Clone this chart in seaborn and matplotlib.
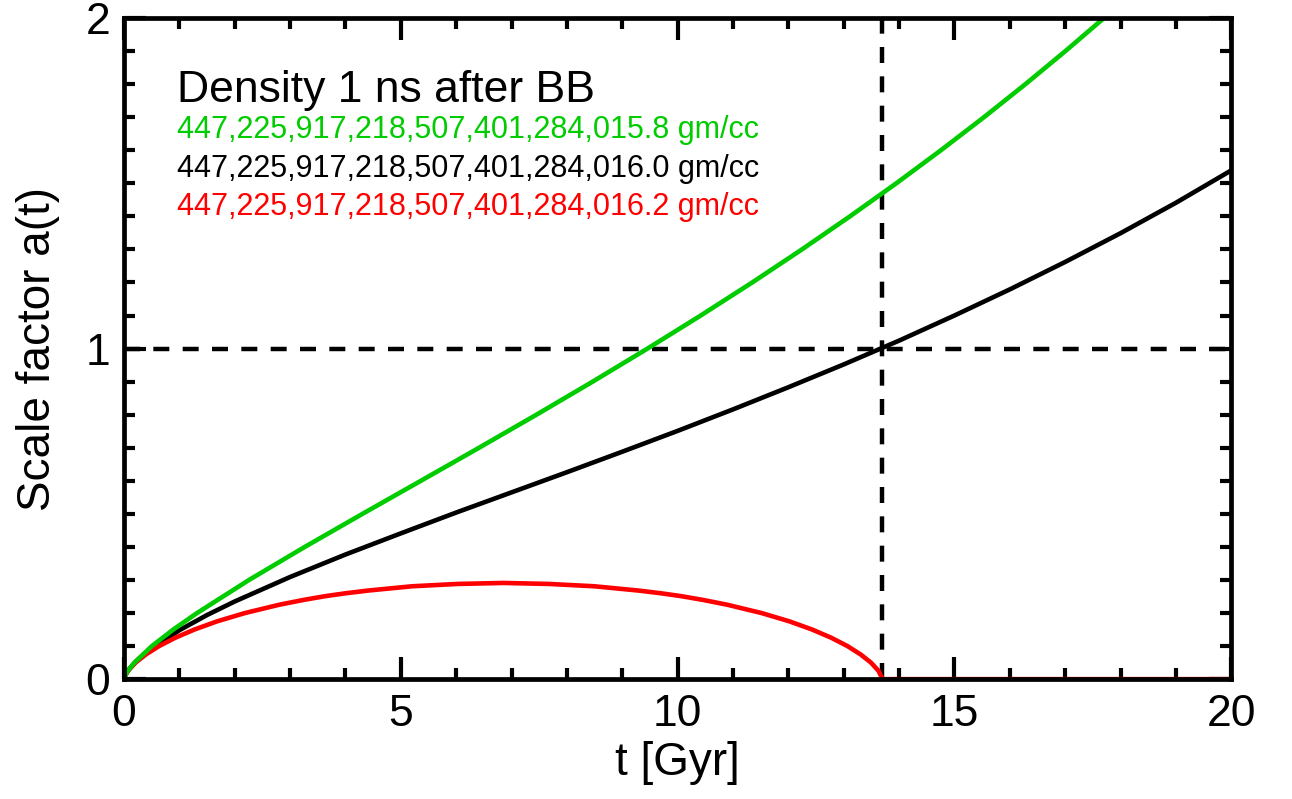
import matplotlib
matplotlib.use("Agg")
import matplotlib.pyplot as plt
import numpy as np
import pandas as pd
import seaborn as sns
from matplotlib.ticker import MultipleLocator

# ---- data ----
black_t = [0, 0.02, 0.05, 0.1, 0.25, 0.5, 1, 1.5, 2, 3, 4, 5, 6, 7, 8, 9, 10,
           11, 12, 13, 14, 15, 16, 17, 18, 19, 20]
black_a = [0, 0.011, 0.020, 0.032, 0.059, 0.093, 0.148, 0.194, 0.235, 0.309,
           0.377, 0.441, 0.504, 0.565, 0.626, 0.688, 0.751, 0.816, 0.883, 0.952,
           1.024, 1.100, 1.179, 1.262, 1.349, 1.441, 1.539]

green_t = [0, 0.018, 0.068, 0.187, 0.503, 0.889, 1.319, 2.257, 3.265, 4.307,
           5.362, 6.413, 7.450, 8.466, 9.456, 10.417, 11.348, 12.246, 13.113,
           13.950, 14.756, 15.534, 16.283, 17.005, 17.702, 18.375]
green_a = [0, 0.01, 0.025, 0.05, 0.10, 0.15, 0.20, 0.30, 0.40, 0.50, 0.60, 0.70,
           0.80, 0.90, 1.00, 1.10, 1.20, 1.30, 1.40, 1.50, 1.60, 1.70, 1.80,
           1.90, 2.00, 2.10]

red_t = [0, 0.018, 0.071, 0.208, 0.397, 0.633, 0.923, 1.270, 1.684, 2.185,
         2.801, 3.253, 3.634, 4.011, 4.409, 5.208, 6.025, 6.851, 7.675, 8.492,
         9.291, 9.689, 10.066, 10.447, 10.899, 11.515, 12.016, 12.430, 12.777,
         13.067, 13.303, 13.492, 13.629, 13.700, 20.0]
red_a = [0, 0.01, 0.025, 0.05, 0.075, 0.10, 0.125, 0.15, 0.175, 0.20, 0.225,
         0.24, 0.251, 0.26, 0.268, 0.281, 0.288, 0.291, 0.288, 0.281, 0.268,
         0.26, 0.251, 0.24, 0.225, 0.20, 0.175, 0.15, 0.125, 0.10, 0.075, 0.05,
         0.025, 0.0, 0.0]

t_now = 13.7
a_now = 1.0

title_text = "Density 1 ns after BB"
labels = ["447,225,917,218,507,401,284,015.8 gm/cc",
          "447,225,917,218,507,401,284,016.0 gm/cc",
          "447,225,917,218,507,401,284,016.2 gm/cc"]
GREEN = "#00cc00"
RED = "#ff0000"
BLACK = "#000000"

# ---- style ----
sns.set_theme(style="white")
plt.rcParams['font.family'] = ['Liberation Sans', 'DejaVu Sans']
plt.rcParams['axes.linewidth'] = 3.4

fig = plt.figure(figsize=(12.92, 7.99), dpi=100)
ax = fig.add_axes([0.096, 0.150, 0.857, 0.8275])

df_black = pd.DataFrame({"t": black_t, "a": black_a})
df_red = pd.DataFrame({"t": red_t, "a": red_a})
df_green = pd.DataFrame({"t": green_t, "a": green_a})

lw = 3.3
sns.lineplot(data=df_black, x="t", y="a", ax=ax, color=BLACK, lw=lw,
             sort=False, estimator=None)
sns.lineplot(data=df_red, x="t", y="a", ax=ax, color=RED, lw=lw,
             sort=False, estimator=None)
sns.lineplot(data=df_green, x="t", y="a", ax=ax, color=GREEN, lw=lw,
             sort=False, estimator=None)

ax.axhline(a_now, color=BLACK, lw=3.2, dashes=(3.6, 3.0), zorder=1.5)
ax.axvline(t_now, color=BLACK, lw=3.2, dashes=(3.6, 3.0), zorder=1.5)

ax.set_xlim(0, 20)
ax.set_ylim(0, 2)
ax.xaxis.set_major_locator(MultipleLocator(5))
ax.xaxis.set_minor_locator(MultipleLocator(1))
ax.yaxis.set_major_locator(MultipleLocator(1))
ax.yaxis.set_minor_locator(MultipleLocator(0.1))
ax.tick_params(which='both', direction='in', top=True, right=True,
               bottom=True, left=True, color=BLACK, width=3.0)
ax.tick_params(which='major', length=16, labelsize=32, labelcolor=BLACK)
ax.tick_params(axis='x', which='major', pad=11)
ax.tick_params(axis='y', which='major', pad=10)
ax.tick_params(which='minor', length=8)
for s in ax.spines.values():
    s.set_color(BLACK)
    s.set_linewidth(3.4)

ax.set_xlabel("t [Gyr]", fontsize=33, color=BLACK, labelpad=4)
ax.set_ylabel("Scale factor a(t)", fontsize=33, color=BLACK, labelpad=18)

ax.text(0.0479, 0.873, title_text, transform=ax.transAxes, fontsize=32,
        color=BLACK, va='baseline', ha='left')
ys = [0.818, 0.760, 0.702]
for lab, col, yy in zip(labels, [GREEN, BLACK, RED], ys):
    ax.text(0.0479, yy, lab, transform=ax.transAxes, fontsize=22,
            color=col, va='baseline', ha='left')

fig.savefig("out.png", dpi=100)
